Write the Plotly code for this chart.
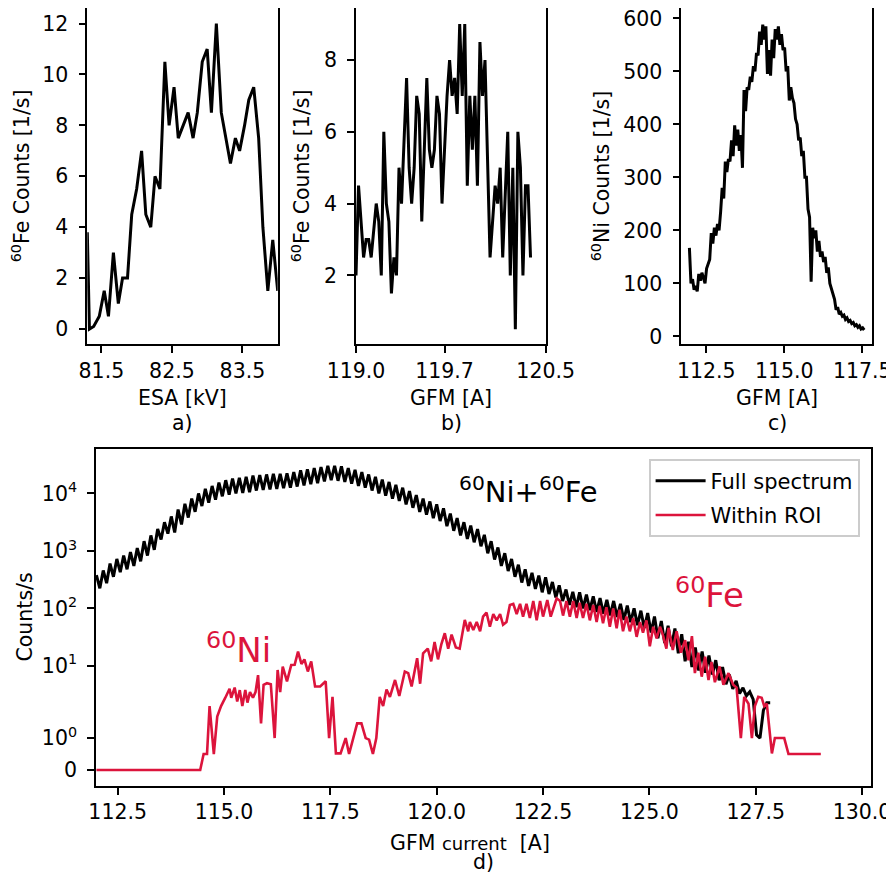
"""
60Fe / 60Ni beam tuning scans
=============================

Three small scans on top (ESA voltage, GFM current for 60Fe, GFM current
for 60Ni) and the full GFM spectrum at the bottom on a symlog count axis
(linear below 2 counts/s, logarithmic above), like matplotlib's
``yscale("symlog", linthresh=2)``.
"""

import numpy as np
import plotly.graph_objects as go

# the page body keeps its 8 px margin, so the figure is 16 px smaller than
# the window and every layout position below is given in window pixels
PAGE_W, PAGE_H, BODY = 894, 882, 8
W, H = PAGE_W - 2 * BODY, PAGE_H - 2 * BODY
FONT = "DejaVu Sans"
CRIMSON = "#DC143C"

# ---- a) ESA scan, 60Fe counts -------------------------------------------
esa_kv = [81.30, 81.33, 81.39, 81.47, 81.54, 81.60, 81.67, 81.74, 81.80, 81.87,
          81.93, 82.00, 82.07, 82.13, 82.20, 82.26, 82.33, 82.40, 82.46, 82.53,
          82.59, 82.66, 82.73, 82.80, 82.86, 82.93, 83.00, 83.06, 83.13, 83.20,
          83.26, 83.33, 83.40, 83.46, 83.53, 83.59, 83.66, 83.73, 83.79, 83.86,
          83.93, 84.00]
esa_fe_counts = [3.8, 0.0, 0.1, 0.5, 1.5, 0.5, 3.0, 1.0, 2.0, 2.0,
                 4.5, 5.5, 7.0, 4.5, 4.0, 6.0, 5.5, 10.5, 8.0, 9.5,
                 7.5, 8.0, 8.5, 7.5, 8.5, 10.5, 11.0, 8.5, 12.0, 8.5,
                 7.5, 6.5, 7.5, 7.0, 8.0, 9.0, 9.5, 7.5, 4.0, 1.5,
                 3.5, 1.5]

# ---- b) GFM scan, 60Fe counts -------------------------------------------
gfm_fe_a = [119.00, 119.02, 119.06, 119.08, 119.10, 119.12, 119.16, 119.18, 119.20, 119.22,
            119.24, 119.26, 119.28, 119.30, 119.32, 119.34, 119.36, 119.40, 119.42, 119.44,
            119.46, 119.48, 119.50, 119.52, 119.54, 119.56, 119.58, 119.60, 119.62, 119.64,
            119.66, 119.68, 119.70, 119.72, 119.74, 119.76, 119.78, 119.80, 119.82, 119.84,
            119.86, 119.88, 119.90, 119.92, 119.94, 119.96, 119.98, 120.00, 120.02, 120.04,
            120.06, 120.08, 120.10, 120.12, 120.14, 120.16, 120.18, 120.20, 120.22, 120.24,
            120.26, 120.28, 120.30, 120.32, 120.34, 120.36, 120.38]
gfm_fe_counts = [2.0, 4.5, 2.5, 3.0, 3.0, 2.5, 4.0, 3.5, 2.0, 6.0,
                 4.0, 3.5, 1.5, 2.5, 2.0, 5.0, 4.0, 7.5, 5.0, 4.0,
                 5.0, 7.0, 6.5, 3.5, 5.5, 7.5, 5.5, 5.0, 5.5, 7.0,
                 6.5, 4.0, 5.5, 7.0, 8.0, 7.0, 7.5, 6.5, 9.0, 7.0,
                 9.0, 4.5, 7.0, 5.5, 7.0, 4.5, 8.5, 7.0, 8.0, 5.5,
                 2.5, 3.5, 4.5, 4.0, 5.0, 2.5, 4.5, 6.0, 2.0, 5.0,
                 0.5, 6.0, 5.0, 2.0, 4.5, 4.5, 2.5]

# ---- c) GFM scan, 60Ni counts (0.05 A steps from 111.96 A) ---------------
GFM_NI_START, GFM_NI_STEP = 111.96, 0.05
gfm_ni_counts = [167, 100, 108, 88, 95, 85, 118, 105, 120, 108,
                 100, 128, 135, 145, 195, 175, 205, 190, 212, 200,
                 235, 280, 260, 330, 310, 335, 330, 370, 340, 398,
                 360, 390, 350, 380, 318, 465, 425, 470, 465, 490,
                 480, 510, 500, 535, 530, 575, 550, 588, 560, 585,
                 495, 540, 492, 560, 525, 580, 560, 585, 550, 570,
                 540, 545, 500, 510, 445, 470, 450, 440, 410, 400,
                 370, 375, 340, 350, 300, 300, 240, 225, 103, 205,
                 185, 200, 160, 180, 150, 160, 140, 150, 120, 130,
                 100, 90, 80, 70, 50, 55, 42, 45, 38, 40,
                 32, 35, 28, 30, 24, 26, 20, 22, 17, 20,
                 14, 16, 12]

# ---- d) full GFM spectrum (0.08 A steps from 112.00 A), log10 counts/s ---
GFM_FULL_START, GFM_FULL_STEP = 112.00, 0.08
full_log10 = [2.58, 2.35, 2.66, 2.44, 2.78, 2.55, 2.86, 2.63, 2.92, 2.68,
              2.98, 2.74, 3.05, 2.82, 3.17, 2.92, 3.27, 3.02, 3.38, 3.20,
              3.50, 3.30, 3.60, 3.32, 3.72, 3.46, 3.82, 3.58, 3.91, 3.68,
              4.00, 3.78, 4.08, 3.84, 4.13, 3.89, 4.19, 3.95, 4.23, 3.98,
              4.26, 4.00, 4.27, 4.01, 4.29, 4.02, 4.31, 4.05, 4.32, 4.06,
              4.33, 4.07, 4.34, 4.08, 4.34, 4.09, 4.35, 4.10, 4.37, 4.12,
              4.40, 4.14, 4.42, 4.16, 4.44, 4.18, 4.46, 4.21, 4.48, 4.23,
              4.48, 4.22, 4.47, 4.20, 4.44, 4.17, 4.41, 4.13, 4.37, 4.10,
              4.33, 4.05, 4.29, 4.00, 4.24, 3.96, 4.20, 3.91, 4.15, 3.87,
              4.10, 3.81, 4.04, 3.75, 3.97, 3.68, 3.91, 3.63, 3.86, 3.57,
              3.81, 3.52, 3.74, 3.43, 3.65, 3.35, 3.57, 3.27, 3.50, 3.21,
              3.44, 3.15, 3.38, 3.08, 3.28, 2.96, 3.17, 2.85, 3.06, 2.74,
              2.96, 2.65, 2.86, 2.55, 2.76, 2.45, 2.68, 2.39, 2.62, 2.34,
              2.57, 2.28, 2.54, 2.25, 2.46, 2.19, 2.40, 2.13, 2.33, 2.06,
              2.29, 2.02, 2.28, 2.00, 2.24, 1.97, 2.21, 1.94, 2.18, 1.91,
              2.15, 1.88, 2.13, 1.85, 2.08, 1.80, 2.05, 1.76, 2.00, 1.71,
              1.96, 1.66, 1.92, 1.58, 1.86, 1.48, 1.78, 1.40, 1.70, 1.34,
              1.65, 1.22, 1.55, 1.08, 1.42, 0.98, 1.32, 0.92, 1.25, 0.88,
              1.18, 0.85, 1.10, 0.75, 0.98, 0.68, 0.85, 0.60, 0.74, 0.52,
              0.62, 0.48, 0.55, 0.42, 0.04, 0.00, 0.27, 0.36, 0.36]

# ---- d) counts within the 60Fe region of interest ------------------------
roi_current = [112.00, 114.44, 114.52, 114.60, 114.66, 114.76, 114.84, 114.93, 115.03, 115.13,
               115.17, 115.25, 115.31, 115.37, 115.43, 115.50, 115.55, 115.61, 115.68, 115.74,
               115.80, 115.87, 115.93, 116.01, 116.10, 116.19, 116.26, 116.32, 116.38, 116.48,
               116.58, 116.66, 116.74, 116.82, 116.89, 116.97, 117.05, 117.14, 117.26, 117.39,
               117.47, 117.55, 117.63, 117.74, 117.86, 117.94, 118.13, 118.23, 118.33, 118.41,
               118.50, 118.58, 118.66, 118.74, 118.82, 118.90, 119.02, 119.12, 119.25, 119.33,
               119.41, 119.54, 119.61, 119.68, 119.79, 119.87, 119.95, 120.03, 120.11, 120.19,
               120.27, 120.35, 120.45, 120.54, 120.66, 120.74, 120.78, 120.86, 120.94, 121.02,
               121.09, 121.17, 121.25, 121.33, 121.41, 121.49, 121.56, 121.64, 121.72, 121.80,
               121.88, 121.96, 122.03, 122.11, 122.19, 122.27, 122.35, 122.43, 122.50, 122.60,
               122.68, 122.75, 122.82, 122.90, 122.97, 123.05, 123.13, 123.21, 123.29, 123.36,
               123.44, 123.52, 123.60, 123.68, 123.76, 123.83, 123.91, 123.99, 124.07, 124.15,
               124.23, 124.30, 124.38, 124.46, 124.54, 124.62, 124.70, 124.78, 124.85, 124.93,
               125.01, 125.09, 125.17, 125.25, 125.32, 125.40, 125.45, 125.55, 125.64, 125.74,
               125.84, 125.92, 126.00, 126.07, 126.15, 126.23, 126.31, 126.39, 126.46, 126.54,
               126.65, 126.74, 126.86, 126.97, 127.05, 127.15, 127.23, 127.33, 127.41, 127.48,
               127.56, 127.64, 127.70, 127.76, 127.88, 127.95, 128.17, 128.27, 129.03]
roi_counts = [0, 0, 0.5, 0.5, 2.0, 0.5, 1.67, 2.0, 2.8, 4.0,
              2.8, 4.2, 2.4, 3.8, 2.0, 3.8, 2.3, 3.5, 2.8, 3.5,
              6.9, 1.46, 4.7, 5.0, 4.8, 1.0, 8.5, 3.5, 9.7, 5.4,
              10.4, 10.5, 17.7, 10.8, 13, 8, 12, 4.4, 4.4, 5.4,
              1.0, 2.9, 0.52, 0.52, 1.0, 0.5, 1.46, 1.46, 1.0, 0.95,
              0.5, 1.0, 2.9, 2.0, 3.9, 2.9, 5.7, 3.0, 8, 7.5,
              4.4, 13.6, 4.9, 16.5, 20, 12, 26, 13, 24, 37,
              20, 35, 21, 20, 63, 40, 58, 42, 58, 40,
              72, 85, 48, 80, 62, 80, 52, 58, 115, 120,
              80, 120, 72, 120, 68, 135, 62, 135, 72, 140,
              72, 100, 150, 135, 75, 135, 72, 135, 68, 125,
              68, 120, 62, 115, 58, 110, 55, 105, 48, 100,
              45, 95, 40, 72, 40, 68, 32, 58, 38, 62,
              22, 48, 30, 48, 34, 20, 46, 19, 40, 17,
              28, 12.5, 33, 7.5, 17, 6.5, 14.5, 5.7, 11.7, 5.2,
              9.8, 4.7, 7.5, 4.7, 4.2, 1.0, 2.9, 2.2, 1.0, 2.0,
              2.9, 2.8, 2.0, 2.2, 0.52, 1.0, 1.0, 0.5, 0.5]

symlog_ticks = [0, 1, 10, 100, 1000, 10000]
symlog_ticktext = ["0", "10<sup>0</sup>", "10<sup>1</sup>", "10<sup>2</sup>",
                   "10<sup>3</sup>", "10<sup>4</sup>"]

# symlog scale: base 10, linthresh 2, linscale 1 (matplotlib convention)
LINTHRESH = 2.0
LINSCALE_ADJ = 1.0 / (1.0 - 1.0 / 10.0)


def symlog(values):
    v = np.asarray(values, dtype=np.float64)
    a = np.abs(v)
    with np.errstate(divide="ignore"):
        log_part = np.sign(v) * LINTHRESH * (
            LINSCALE_ADJ + np.log10(np.maximum(a, 1e-300) / LINTHRESH)
        )
    return np.where(a <= LINTHRESH, v * LINSCALE_ADJ, log_part)


def px_x(px):
    """Window pixel -> paper fraction."""
    return (px - BODY) / W


def px_y(py):
    return 1.0 - (py - BODY) / H


gfm_ni_a = GFM_NI_START + GFM_NI_STEP * np.arange(len(gfm_ni_counts))
gfm_full_a = GFM_FULL_START + GFM_FULL_STEP * np.arange(len(full_log10))
full_counts = 10.0 ** np.asarray(full_log10)

fig = go.Figure()
line_black = dict(color="black", width=3)

fig.add_trace(go.Scatter(x=esa_kv, y=esa_fe_counts, mode="lines", line=line_black,
                         xaxis="x", yaxis="y", showlegend=False,
                         hovertemplate="ESA=%{x:.2f} kV<br>%{y} 1/s<extra></extra>"))
fig.add_trace(go.Scatter(x=gfm_fe_a, y=gfm_fe_counts, mode="lines", line=line_black,
                         xaxis="x2", yaxis="y2", showlegend=False,
                         hovertemplate="GFM=%{x:.2f} A<br>%{y} 1/s<extra></extra>"))
fig.add_trace(go.Scatter(x=gfm_ni_a, y=gfm_ni_counts, mode="lines", line=line_black,
                         xaxis="x3", yaxis="y3", showlegend=False,
                         hovertemplate="GFM=%{x:.2f} A<br>%{y} 1/s<extra></extra>"))
fig.add_trace(go.Scatter(x=gfm_full_a, y=symlog(full_counts), customdata=full_counts,
                         mode="lines", line=dict(color="black", width=3),
                         name="Full spectrum", legendgroup="full",
                         xaxis="x4", yaxis="y4",
                         hovertemplate="GFM=%{x:.2f} A<br>%{customdata:.3g} /s<extra></extra>"))
fig.add_trace(go.Scatter(x=roi_current, y=symlog(roi_counts), customdata=roi_counts,
                         mode="lines", line=dict(color=CRIMSON, width=2.6),
                         name="Within ROI", legendgroup="roi",
                         xaxis="x4", yaxis="y4",
                         hovertemplate="GFM=%{x:.2f} A<br>%{customdata:.3g} /s<extra></extra>"))

TICK_SIZE = 20.5
TITLE_SIZE = 20.5
axis_style = dict(
    showline=True, mirror=True, linecolor="black", linewidth=1.6,
    ticks="outside", ticklen=7, tickwidth=1.6, tickcolor="black",
    showgrid=False, zeroline=False, automargin=False, ticklabeloverflow="allow",
    tickfont=dict(family=FONT, size=TICK_SIZE, color="black"),
)
x_style = dict(axis_style, ticklabelstandoff=0)
y_style = dict(axis_style, ticklabelstandoff=6)

top_y = [px_y(344.3), px_y(8.3)]
fig.update_layout(
    width=W, height=H,
    margin=dict(l=0, r=0, t=0, b=0, pad=0, autoexpand=False),
    paper_bgcolor="white", plot_bgcolor="white",
    font=dict(family=FONT, size=TICK_SIZE, color="black"),
    xaxis=dict(x_style, domain=[px_x(87.3), px_x(277.7)], range=[81.3, 84.0],
               tickvals=[81.5, 82.5, 83.5], ticktext=["81.5", "82.5", "83.5"],
               anchor="y"),
    yaxis=dict(y_style, domain=top_y, range=[-0.6, 12.6], dtick=2, anchor="x"),
    xaxis2=dict(x_style, domain=[px_x(356.0), px_x(545.7)], range=[119.0, 120.5],
                tickvals=[119.0, 119.7, 120.5], ticktext=["119.0", "119.7", "120.5"],
                anchor="y2"),
    yaxis2=dict(y_style, domain=top_y, range=[0.08, 9.44], tickvals=[2, 4, 6, 8],
                anchor="x2"),
    xaxis3=dict(x_style, domain=[px_x(681.3), px_x(872.3)], range=[111.70, 117.82],
                tickvals=[112.5, 115.0, 117.5], ticktext=["112.5", "115.0", "117.5"],
                anchor="y3"),
    yaxis3=dict(y_style, domain=top_y, range=[-15, 619], dtick=100, anchor="x3"),
    xaxis4=dict(x_style, domain=[px_x(96.0), px_x(871.0)], range=[111.99, 130.21],
                tickvals=[112.5, 115, 117.5, 120, 122.5, 125, 127.5, 130],
                ticktext=["112.5", "115.0", "117.5", "120.0", "122.5", "125.0",
                          "127.5", "130.0"],
                anchor="y4"),
    yaxis4=dict(y_style, domain=[px_y(785.7), px_y(449.3)], range=[-0.546, 11.155],
                tickvals=list(symlog(symlog_ticks)), ticktext=symlog_ticktext,
                anchor="x4"),
    legend=dict(x=px_x(860), y=px_y(459), xanchor="right", yanchor="top",
                bgcolor="rgba(255,255,255,0.8)", bordercolor="#cccccc", borderwidth=1.6,
                itemwidth=50, tracegroupgap=4, traceorder="grouped",
                font=dict(family=FONT, size=21, color="black")),
)


def label(text, x, y, size=TITLE_SIZE, color="black", angle=0, xanchor="center"):
    fig.add_annotation(text=text, x=px_x(x), y=px_y(y), xref="paper", yref="paper",
                       xanchor=xanchor, yanchor="middle", showarrow=False,
                       textangle=angle, font=dict(family=FONT, size=size, color=color))


# axis titles and panel letters (window pixels)
label("ESA [kV]", 182.5, 398)
label("GFM [A]", 451, 398)
label("GFM [A]", 777, 398)
label("GFM <span style='font-size:18px'>current</span>  [A]", 470, 843)
label("a)", 182.5, 423)
label("b)", 451, 423)
label("c)", 777, 423)
label("d)", 483.5, 862)
label("<sup>60</sup>Fe Counts [1/s]", 21, 176.3, angle=-90)
label("<sup>60</sup>Fe Counts [1/s]", 301, 176.3, angle=-90)
label("<sup>60</sup>Ni Counts [1/s]", 601, 176.3, angle=-90)
label("Counts/s", 24, 617.5, angle=-90)

# isotope tags in the spectrum
label("<sup>60</sup>Ni+<sup>60</sup>Fe", 457, 490, size=29, xanchor="left")
label("<sup>60</sup>Ni", 204, 648, size=34, color=CRIMSON, xanchor="left")
label("<sup>60</sup>Fe", 673, 593, size=34, color=CRIMSON, xanchor="left")

fig.write_html("out.html")
